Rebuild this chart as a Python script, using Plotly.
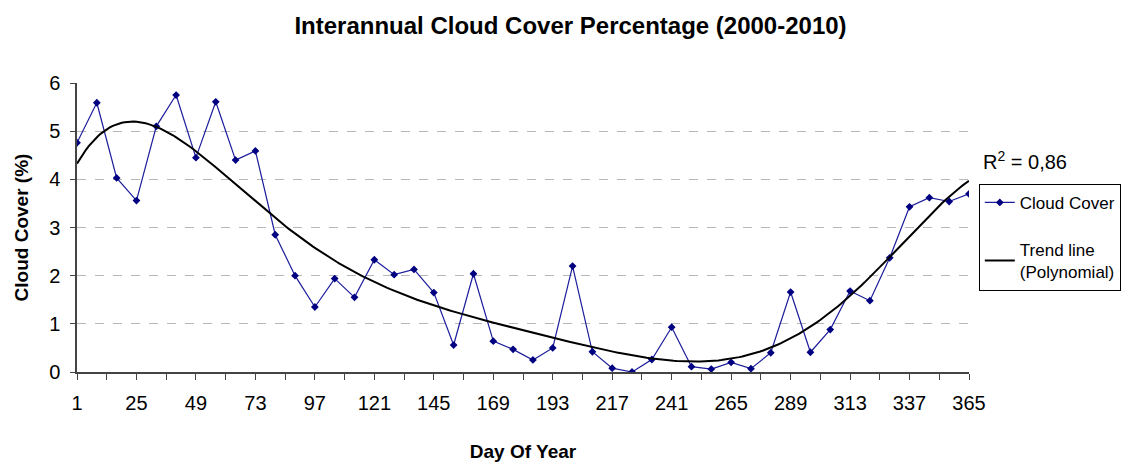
import numpy as np
import plotly.graph_objects as go

# 8-day composites, plotted as categories (last one labelled 365 on the axis)
days = [1, 9, 17, 25, 33, 41, 49, 57, 65, 73, 81, 89, 97, 105, 113, 121, 129, 137, 145, 153,
        161, 169, 177, 185, 193, 201, 209, 217, 225, 233, 241, 249, 257, 265, 273, 281, 289,
        297, 305, 313, 321, 329, 337, 345, 353, 361]
cloud = [4.76, 5.59, 4.03, 3.56, 5.10, 5.75, 4.45, 5.61, 4.40, 4.59, 2.85, 2.00, 1.35, 1.94,
         1.55, 2.33, 2.02, 2.13, 1.65, 0.56, 2.04, 0.64, 0.47, 0.25, 0.50, 2.20, 0.42, 0.08,
         0.00, 0.26, 0.93, 0.11, 0.06, 0.20, 0.07, 0.40, 1.66, 0.41, 0.88, 1.68, 1.48, 2.37,
         3.43, 3.62, 3.54, 3.70]
tick_labels = ["1", "25", "49", "73", "97", "121", "145", "169", "193", "217", "241", "265",
               "289", "313", "337", "365"]
r2_text = "R<sup>2</sup> = 0,86"

idx = np.arange(len(cloud))
# polynomial trend line, like Excel does on the category index
coef = np.polyfit(idx + 1, cloud, 6)
xs = np.linspace(0, len(cloud) - 1, 300)
trend = np.polyval(coef, xs + 1)

font = "Liberation Sans, Arial, sans-serif"

fig = go.Figure()
fig.add_trace(go.Scatter(x=idx, y=cloud, mode="lines+markers", name="Cloud Cover",
                         legendgroup="a",
                         line=dict(color="#1c1c9c", width=1.2),
                         marker=dict(symbol="diamond", size=6, color="#000080")))
fig.add_trace(go.Scatter(x=xs, y=trend, mode="lines", name="Trend line<br>(Polynomial)",
                         legendgroup="b",
                         line=dict(color="black", width=2)))

# page body has an 8px margin, so the figure is a bit smaller than the window
fig.update_layout(
    width=1125, height=456,
    margin=dict(l=69, r=162, t=75, b=92),
    paper_bgcolor="white", plot_bgcolor="white",
    font=dict(family=font, size=20, color="black"),
    title=dict(text="<b>Interannual Cloud Cover Percentage (2000-2010)</b>",
               x=0.5, xanchor="center", y=0.962, yanchor="middle",
               font=dict(size=24, family=font)),
    legend=dict(x=1.011, y=0.651, xanchor="left", yanchor="top",
                bordercolor="black", borderwidth=1, bgcolor="white",
                font=dict(size=17, family=font), tracegroupgap=22,
                traceorder="grouped", itemwidth=30),
    annotations=[dict(text=r2_text, xref="paper", yref="paper", x=1.013, y=0.733,
                      xanchor="left", yanchor="middle", showarrow=False,
                      font=dict(size=20, family=font))],
)

fig.update_xaxes(
    range=[0, len(cloud) - 1], automargin=False,
    tickvals=list(range(0, len(cloud), 3)), ticktext=tick_labels,
    ticks="outside", ticklen=6, tickcolor="#444", ticklabelstandoff=6,
    minor=dict(dtick=1.5, tick0=0, ticks="outside", ticklen=6, tickcolor="#444"),
    showline=True, linecolor="#444", linewidth=1.5,
    showgrid=False, zeroline=False,
    title=dict(text="<b>Day Of Year</b>", font=dict(size=19, family=font), standoff=32),
)
fig.update_yaxes(
    range=[0, 6], dtick=1, automargin=False,
    ticks="outside", ticklen=5, tickcolor="#444", ticklabelstandoff=6,
    showline=True, linecolor="#444", linewidth=1.5,
    showgrid=True, gridcolor="#b8b8b8", griddash="dash", gridwidth=1,
    zeroline=False,
    title=dict(text="<b>Cloud Cover (%)</b>", font=dict(size=19, family=font), standoff=15),
)

fig.write_html("out.html")
